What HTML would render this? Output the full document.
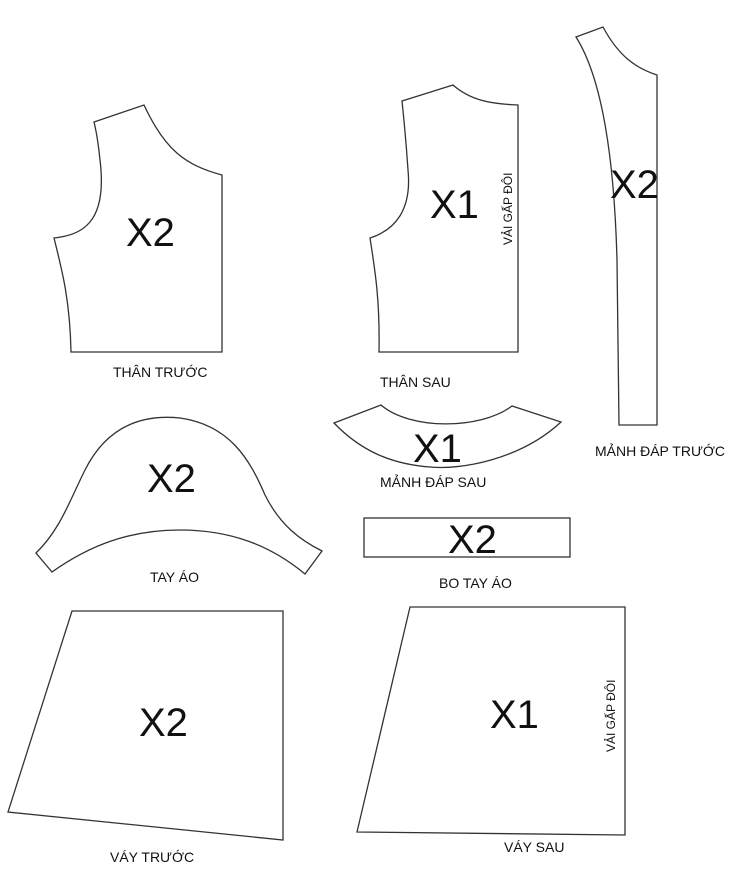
<!DOCTYPE html>
<html><head><meta charset="utf-8"><style>
html,body{margin:0;padding:0;background:#fff}
svg{display:block}
text{font-family:"Liberation Sans",sans-serif;fill:#111}
.b{font-size:40px}
.l{font-size:14px}
</style></head><body>
<svg width="747" height="886" viewBox="0 0 747 886" fill="none" stroke="#333" stroke-width="1.3">
<path d="M94,122 L144,105 C165,150 185,165 222,175 L222,352 L71,352 C70,300 62,270 54,238 C80,235 108,225 100,160 C98,140 96,130 94,122 Z"/>
<path d="M402,101 L453,85 C470,100 490,104 518,105 L518,352 L379,352 C380,300 375,270 370,238 C395,230 412,210 408,170 C406,140 404,120 402,101 Z"/>
<!-- Manh dap truoc -->
<path d="M576,37 L603,27 C618,55 635,68 657,75 L657,425 L619,425 L617,260 C614,150 600,75 576,37 Z"/>
<path d="M334,423 L381,405 C410,430 480,430 512,406 L561,422 C520,460 460,470 430,467 C390,464 360,450 334,423 Z"/>
<path d="M36,553 C60,530 70,500 85,470 C110,420 150,415 180,418 C230,425 250,460 265,495 C280,525 300,540 322,551 L305,574 C270,545 230,530 180,530 C130,530 90,545 52,572 Z"/>
<rect x="364" y="518" width="206" height="39"/>
<path d="M72,611 L283,611 L283,840 L8,812 Z"/>
<path d="M410,607 L625,607 L625,835 L357,832 Z"/>
<g stroke="none">
<text class="b" x="126" y="246">X2</text>
<text class="b" x="430" y="218">X1</text>
<text class="b" x="610" y="198">X2</text>
<text class="b" x="413" y="462">X1</text>
<text class="b" x="147" y="492">X2</text>
<text class="b" x="448" y="553">X2</text>
<text class="b" x="139" y="736">X2</text>
<text class="b" x="490" y="728">X1</text>
<text class="l" x="113" y="377">THÂN TRƯỚC</text>
<text class="l" x="380" y="387">THÂN SAU</text>
<text class="l" x="595" y="456">MẢNH ĐÁP TRƯỚC</text>
<text class="l" x="380" y="487">MẢNH ĐÁP SAU</text>
<text class="l" x="150" y="582">TAY ÁO</text>
<text class="l" x="439" y="588">BO TAY ÁO</text>
<text class="l" x="110" y="862">VÁY TRƯỚC</text>
<text class="l" x="504" y="852">VÁY SAU</text>
<text style="font-size:12px" transform="translate(512,245) rotate(-90)">VẢI GẤP ĐÔI</text>
<text style="font-size:12px" transform="translate(615,752) rotate(-90)">VẢI GẤP ĐÔI</text>
</g>
</svg>
</body></html>
